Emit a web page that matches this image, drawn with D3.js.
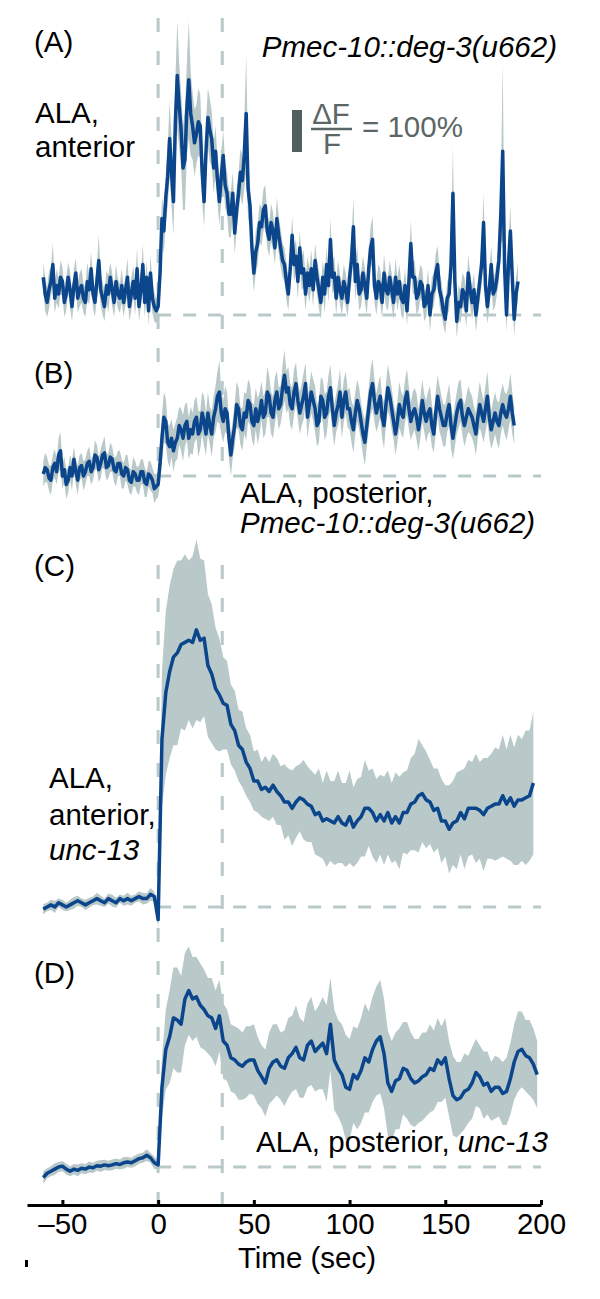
<!DOCTYPE html>
<html>
<head>
<meta charset="utf-8">
<script src="https://cdn.jsdelivr.net/npm/d3@7"></script>
<style>
body { margin: 0; background: #fff; }
text { font-family: "Liberation Sans", Arial, Helvetica, sans-serif; }
</style>
</head>
<body>
<script>
// dF/F traces (1 = 100%), all starting at t = -60 s
// A and B sampled every 1 s, C and D every 2 s
var tFirst = -60;
var stimOn = 0, stimOff = 33.5;
var timeTicks = [-50, 0, 50, 100, 150, 200];

var aMean = [
  0.9,0.5,0.3,0.6,0.8,1.2,0.4,0.7,0.5,0.9,
  0.8,0.3,0.5,0.9,0.6,0.2,0.7,1.0,0.4,0.6,
  0.7,0.4,0.3,0.8,0.6,1.1,0.5,0.3,0.8,1.3,
  0.6,0.4,0.2,0.7,0.5,0.9,0.6,0.3,0.8,0.5,
  0.4,0.7,0.3,0.6,0.9,0.2,0.5,0.8,0.4,1.1,
  0.2,0.6,1.2,0.3,0.9,0.1,1.0,0.4,0.2,0.1,
  0.2,1.0,2.3,2.0,2.8,3.3,4.2,3.4,2.7,4.6,
  5.7,5.0,4.4,3.5,3.7,4.9,5.6,4.8,4.5,4.1,
  4.3,4.6,4.5,3.4,2.7,3.9,4.7,4.4,4.2,3.5,
  3.9,3.2,2.7,3.3,3.8,3.1,2.9,2.4,2.4,2.9,
  1.95,2.5,2.9,3.4,3.2,3.8,4.8,3.0,2.6,1.6,
  1.0,1.5,1.7,2.2,2.1,2.5,2.6,2.0,1.8,2.2,
  2.0,1.6,2.3,1.9,1.6,1.3,1.2,0.8,0.5,1.1,
  1.9,1.2,1.4,0.8,1.6,1.0,1.1,0.5,1.0,0.7,
  1.1,0.6,1.3,0.9,0.6,0.3,0.9,0.5,1.2,0.7,
  1.8,0.9,1.0,0.4,0.9,0.6,0.4,0.8,0.6,0.3,
  0.9,1.3,2.1,0.8,1.2,0.5,0.6,1.0,0.7,0.4,
  1.1,1.6,1.8,0.7,0.4,0.8,0.7,0.3,1.0,0.6,
  0.5,0.9,0.6,0.3,0.9,0.5,0.8,0.4,0.3,0.7,
  0.1,0.8,1.7,0.9,0.9,0.4,0.5,0.8,0.7,0.2,
  0.3,0.7,0.0,0.5,0.6,1.0,1.2,0.6,0.4,0.1,
  -0.1,0.4,0.5,1.2,2.9,0.8,-0.15,0.3,0.2,0.6,
  0.5,0.1,1.0,0.6,0.3,0.6,0.0,0.4,0.8,1.2,
  2.2,0.7,0.2,0.6,1.2,0.5,0.6,0.9,1.3,2.4,
  3.9,1.1,0.0,1.2,2.0,0.9,-0.1,0.5,0.8];
var aErr = [
  0.35,0.4,0.35,0.45,0.35,0.5,0.35,0.4,0.35,0.4,
  0.35,0.35,0.4,0.35,0.45,0.35,0.4,0.35,0.35,0.4,
  0.4,0.35,0.35,0.45,0.35,0.4,0.35,0.35,0.4,0.6,
  0.35,0.4,0.35,0.35,0.45,0.35,0.4,0.35,0.4,0.35,
  0.35,0.4,0.35,0.35,0.45,0.35,0.4,0.35,0.4,0.5,
  0.35,0.4,0.5,0.35,0.4,0.35,0.45,0.35,0.35,0.3,
  0.3,0.4,0.5,0.55,0.6,0.7,0.9,0.8,0.8,1.0,
  1.3,1.0,0.9,1.0,1.2,1.1,1.4,1.0,0.8,0.8,
  0.7,0.8,0.75,0.7,0.6,0.7,0.7,0.75,0.65,0.6,
  0.6,0.55,0.55,0.6,0.6,0.55,0.5,0.55,0.55,0.5,
  0.5,0.5,0.5,0.55,0.6,0.8,1.4,0.7,0.5,0.45,
  0.45,0.5,0.5,0.45,0.45,0.5,0.5,0.4,0.4,0.45,
  0.45,0.4,0.5,0.45,0.45,0.4,0.4,0.45,0.4,0.4,
  0.45,0.4,0.4,0.45,0.4,0.4,0.45,0.4,0.4,0.4,
  0.45,0.4,0.4,0.4,0.45,0.4,0.4,0.45,0.4,0.4,
  0.5,0.4,0.4,0.4,0.4,0.35,0.4,0.4,0.4,0.35,
  0.45,0.5,0.7,0.45,0.45,0.4,0.4,0.4,0.4,0.4,
  0.45,0.5,0.55,0.4,0.4,0.4,0.4,0.4,0.45,0.4,
  0.4,0.4,0.4,0.4,0.45,0.4,0.4,0.4,0.4,0.4,
  0.35,0.45,0.55,0.4,0.4,0.4,0.4,0.4,0.4,0.35,
  0.35,0.4,0.4,0.4,0.4,0.45,0.45,0.4,0.4,0.35,
  0.35,0.4,0.4,0.5,1.1,0.4,0.4,0.4,0.4,0.4,
  0.4,0.4,0.45,0.4,0.4,0.4,0.4,0.4,0.45,0.5,
  0.7,0.4,0.4,0.45,0.45,0.4,0.4,0.4,0.5,0.7,
  2.1,0.5,0.4,0.5,0.6,0.45,0.4,0.4,0.45];

var bMean = [
  0.05,0.2,0.15,-0.05,-0.1,0.2,0.3,0.1,0.5,0.6,
  0.0,0.15,-0.2,-0.1,0.2,0.0,0.4,0.1,-0.1,0.2,
  0.25,0.0,0.1,0.3,0.35,0.1,0.2,0.5,0.45,0.15,
  0.3,0.5,0.55,0.2,0.25,0.45,0.4,0.15,0.1,0.3,
  0.3,0.05,0.0,0.2,0.15,-0.1,-0.15,0.1,0.05,-0.1,
  -0.1,0.1,0.1,-0.15,-0.2,0.05,0.0,-0.1,-0.3,-0.25,
  -0.2,0.3,0.9,1.4,1.3,0.8,0.7,0.9,0.6,0.8,
  0.9,1.2,1.1,0.9,1.2,1.3,0.9,1.1,1.0,1.3,
  1.4,1.0,1.1,1.5,1.3,1.0,1.5,1.2,1.0,1.4,
  1.6,1.9,2.0,1.5,1.3,1.6,1.5,0.9,0.5,0.9,
  1.2,1.7,1.6,1.2,1.1,1.5,1.4,1.8,1.7,1.3,
  1.2,1.6,1.3,1.5,1.8,1.4,1.5,2.0,1.9,1.5,
  1.4,1.8,2.0,1.6,1.7,2.1,2.4,2.0,2.1,1.7,
  1.6,2.0,2.2,1.8,1.5,1.7,1.9,2.2,1.4,1.7,
  2.0,1.8,1.6,1.2,1.3,1.9,1.8,1.4,1.5,1.9,
  2.1,1.6,1.2,1.5,1.7,2.0,1.4,1.8,2.0,1.6,
  1.6,1.3,1.1,1.5,1.8,1.6,1.3,1.0,0.8,1.2,
  1.6,2.0,2.2,1.8,1.5,1.7,1.9,1.4,1.2,1.7,
  2.1,1.9,1.6,1.3,1.0,1.3,1.7,1.5,1.4,1.8,
  2.0,1.6,1.3,1.5,1.6,1.4,1.1,1.4,1.8,1.5,
  1.3,1.5,1.6,1.2,1.0,1.5,1.9,1.6,1.4,1.2,
  1.2,1.5,1.7,1.2,0.9,1.2,1.5,1.7,1.8,1.4,
  1.2,1.4,1.6,1.5,1.4,1.2,1.0,1.4,1.7,1.5,
  1.3,1.6,1.9,1.4,1.1,1.3,1.5,1.3,1.2,1.5,
  1.7,1.5,1.4,1.6,1.9,1.5,1.2];
var bErr = [
  0.3,0.35,0.3,0.3,0.35,0.3,0.35,0.3,0.4,0.45,
  0.3,0.3,0.35,0.3,0.3,0.35,0.3,0.3,0.35,0.3,
  0.3,0.35,0.3,0.3,0.35,0.3,0.3,0.35,0.3,0.3,
  0.35,0.3,0.4,0.3,0.3,0.35,0.3,0.3,0.35,0.3,
  0.3,0.35,0.3,0.3,0.35,0.3,0.3,0.35,0.3,0.3,
  0.35,0.3,0.3,0.35,0.3,0.3,0.35,0.3,0.35,0.3,
  0.3,0.45,0.55,0.6,0.55,0.45,0.5,0.45,0.5,0.45,
  0.5,0.45,0.5,0.55,0.5,0.45,0.5,0.55,0.5,0.5,
  0.5,0.55,0.45,0.5,0.6,0.5,0.5,0.45,0.55,0.5,
  0.55,0.6,0.75,0.5,0.5,0.55,0.5,0.5,0.5,0.45,
  0.5,0.55,0.5,0.45,0.5,0.5,0.55,0.5,0.5,0.45,
  0.5,0.5,0.55,0.5,0.45,0.5,0.5,0.6,0.5,0.5,
  0.5,0.55,0.5,0.5,0.45,0.55,0.6,0.5,0.5,0.5,
  0.5,0.55,0.5,0.45,0.5,0.5,0.55,0.5,0.5,0.45,
  0.5,0.5,0.55,0.5,0.5,0.45,0.5,0.55,0.5,0.5,
  0.55,0.5,0.5,0.45,0.5,0.55,0.5,0.5,0.5,0.45,
  0.5,0.5,0.55,0.5,0.5,0.5,0.45,0.5,0.55,0.5,
  0.5,0.55,0.6,0.5,0.45,0.5,0.5,0.5,0.55,0.5,
  0.55,0.5,0.5,0.45,0.5,0.5,0.55,0.5,0.5,0.5,
  0.55,0.5,0.45,0.5,0.5,0.55,0.5,0.5,0.5,0.45,
  0.5,0.5,0.55,0.5,0.45,0.5,0.5,0.55,0.5,0.5,
  0.5,0.45,0.5,0.55,0.5,0.5,0.5,0.55,0.5,0.45,
  0.5,0.5,0.55,0.5,0.5,0.45,0.5,0.5,0.55,0.5,
  0.5,0.55,0.6,0.5,0.45,0.5,0.5,0.5,0.55,0.5,
  0.5,0.5,0.55,0.5,0.55,0.5,0.45];

var cMean = [
  -0.05,0.0,0.05,0.0,0.1,0.05,0.0,0.05,0.1,0.15,0.1,0.05,0.1,0.15,0.2,
  0.15,0.1,0.2,0.15,0.1,0.2,0.15,0.2,0.15,0.2,0.25,0.2,0.2,0.3,0.25,
  -0.3,4.0,5.1,5.6,5.95,6.05,6.25,6.3,6.35,6.3,
  6.6,6.35,6.4,5.75,5.55,5.2,5.05,4.85,4.8,4.35,
  4.2,3.85,3.75,3.45,3.3,3.0,3.0,2.8,2.85,2.75,
  2.9,2.75,2.65,2.5,2.5,2.35,2.5,2.6,2.55,2.45,
  2.4,2.2,2.25,2.05,2.1,2.05,2.0,2.15,2.0,1.95,
  2.15,1.9,2.05,2.15,2.35,2.35,2.25,2.05,2.2,2.05,
  2.25,2.0,2.15,2.0,2.25,2.25,2.45,2.5,2.65,2.7,
  2.55,2.5,2.3,2.35,2.05,2.05,1.85,2.0,2.05,2.25,
  2.1,2.35,2.35,2.35,2.3,2.2,2.35,2.4,2.45,2.45,
  2.65,2.45,2.6,2.4,2.55,2.55,2.6,2.65,2.95];
var cErr = [
  0.12,0.1,0.12,0.14,0.1,0.12,0.1,0.12,0.14,0.12,0.1,0.12,0.12,0.1,0.14,
  0.12,0.1,0.12,0.14,0.12,0.1,0.12,0.14,0.12,0.1,0.12,0.14,0.12,0.15,0.12,
  0.2,1.6,1.95,2.05,2.1,2.2,2.0,2.1,1.9,2.05,
  2.15,1.95,1.85,1.7,1.65,1.45,1.35,1.1,1.05,0.95,
  0.95,0.85,0.9,0.8,0.8,0.7,0.75,0.65,0.75,0.7,
  0.75,0.8,0.7,0.9,0.8,0.9,0.85,0.8,0.95,0.9,
  0.85,0.95,1.05,0.9,1.15,0.95,1.0,1.1,0.95,1.0,
  1.1,0.95,1.0,0.95,1.15,0.9,1.05,1.0,0.95,1.05,
  1.0,0.95,1.05,1.1,0.95,1.0,1.1,1.15,1.35,1.15,
  1.15,1.0,1.0,0.95,1.0,0.85,1.05,1.0,1.15,1.0,
  1.2,1.15,1.1,1.3,1.15,1.35,1.2,1.25,1.35,1.3,
  1.45,1.3,1.5,1.4,1.55,1.45,1.6,1.55,1.7];

var dMean = [
  -0.25,-0.15,-0.1,-0.05,0.0,0.02,-0.05,-0.1,-0.05,-0.08,-0.03,-0.05,0.0,-0.02,0.03,
  0.02,0.05,0.03,0.05,0.08,0.06,0.1,0.12,0.1,0.15,0.2,0.22,0.28,0.22,0.1,
  0.05,1.9,2.8,3.1,3.55,3.5,3.4,4.0,4.2,4.0,
  4.05,3.85,3.75,3.6,3.55,3.3,3.6,3.0,2.9,2.6,
  2.55,2.45,2.4,2.5,2.55,2.55,2.3,2.15,2.0,2.35,
  2.5,2.55,2.4,2.35,2.6,2.7,2.85,2.6,2.55,2.9,
  3.0,2.75,2.85,2.95,2.7,3.4,2.55,2.35,2.2,1.9,
  1.85,2.2,2.1,2.3,2.6,2.5,2.8,3.0,3.1,2.7,
  2.0,1.8,2.05,2.1,2.35,2.3,2.1,2.0,2.05,2.15,
  2.2,2.35,2.3,2.55,2.45,2.6,2.1,1.7,1.6,1.65,
  1.8,1.85,2.0,2.25,2.15,1.95,2.0,1.8,1.9,1.9,
  1.75,1.8,2.1,2.5,2.75,2.8,2.65,2.6,2.45,2.2];
var dErr = [
  0.15,0.12,0.12,0.14,0.12,0.12,0.13,0.12,0.12,0.14,0.12,0.12,0.13,0.12,0.12,
  0.14,0.12,0.12,0.13,0.12,0.12,0.14,0.12,0.12,0.13,0.12,0.12,0.14,0.12,0.15,
  0.1,0.7,0.95,1.1,1.2,1.25,1.15,1.1,1.05,1.0,
  0.95,1.0,0.95,0.9,0.95,0.9,0.85,0.9,0.85,0.8,
  0.8,0.85,0.8,0.85,0.8,0.85,0.8,0.75,0.8,0.85,
  0.9,0.85,0.8,0.9,0.95,0.9,1.0,0.95,0.9,1.0,
  1.05,0.95,1.0,1.1,1.15,1.1,1.2,1.15,1.2,1.25,
  1.2,1.15,1.2,1.25,1.3,1.2,1.25,1.3,1.35,1.3,
  1.25,1.2,1.15,1.2,1.1,1.15,1.1,1.05,1.0,1.05,
  1.0,1.05,0.95,1.0,0.9,0.95,0.9,0.95,0.9,0.85,
  0.9,0.8,0.85,0.8,0.75,0.8,0.75,0.7,0.75,0.7,
  0.75,0.8,0.85,0.9,0.95,0.9,0.85,0.9,0.85,0.8];

var width = 600, height = 1299;
var unitPx = 42;            // height of 100% dF/F
var fontSize = "29.5px";
var lineColor = '#0b468c';
var bandColor = '#b9c9c9';
var dashColor = '#b9c9c9';

var svg = d3.select("body").append("svg")
    .attr("width", width)
    .attr("height", height);

var x = d3.scaleLinear().domain([-68.5, 200]).range([27, 541]);

var panels = [
    { mean: aMean, err: aErr, dt: 1, base: 315 },
    { mean: bMean, err: bErr, dt: 1, base: 476 },
    { mean: cMean, err: cErr, dt: 2, base: 907 },
    { mean: dMean, err: dErr, dt: 2, base: 1167 }
];

// stimulus on / off markers, one pair for A-B and one for C-D
var stimGroups = [[18, 478], [565, 1205]];
stimGroups.forEach(function (g) {
    svg.selectAll(null)
        .data([stimOn, stimOff])
        .enter().append("line")
        .attr("x1", function (d) { return x(d); })
        .attr("x2", function (d) { return x(d); })
        .attr("y1", g[0])
        .attr("y2", g[1])
        .style("stroke", dashColor)
        .style("stroke-width", 3)
        .style("stroke-dasharray", "14,19");
});

panels.forEach(function (p) {
    var y = d3.scaleLinear().domain([0, 1]).range([p.base, p.base - unitPx]);
    var pts = p.mean.map(function (m, i) {
        return { t: tFirst + i * p.dt, m: m, e: p.err[i] };
    });

    svg.append("line")
        .attr("x1", x(stimOn))
        .attr("x2", x(200))
        .attr("y1", y(0))
        .attr("y2", y(0))
        .style("stroke", dashColor)
        .style("stroke-width", 3)
        .style("stroke-dasharray", "13,12");

    var area = d3.area()
        .x(function (d) { return x(d.t); })
        .y0(function (d) { return y(d.m - d.e); })
        .y1(function (d) { return y(d.m + d.e); });

    var line = d3.line()
        .x(function (d) { return x(d.t); })
        .y(function (d) { return y(d.m); });

    svg.append("path")
        .datum(pts)
        .attr("d", area)
        .style("fill", bandColor);

    svg.append("path")
        .datum(pts)
        .attr("d", line)
        .style("fill", "none")
        .style("stroke", lineColor)
        .style("stroke-width", 3.5)
        .style("stroke-linejoin", "round");
});

// time axis
var axis = svg.append("g")
    .attr("transform", "translate(0,1205)")
    .call(d3.axisBottom(x)
        .tickValues(timeTicks)
        .tickSizeInner(-5)
        .tickSizeOuter(0)
        .tickPadding(8)
        .tickFormat(function (d) { return d < 0 ? "\u2013" + Math.abs(d) : d; }));
axis.select(".domain").style("stroke", "#000").style("stroke-width", 3);
axis.selectAll(".tick line").style("stroke", "#000").style("stroke-width", 3);
axis.selectAll(".tick text")
    .style("font-size", fontSize)
    .style("font-family", "'Liberation Sans', Arial, sans-serif")
    .style("fill", "#000");

svg.append("text")
    .attr("x", 307).attr("y", 1268)
    .attr("text-anchor", "middle")
    .style("font-size", fontSize)
    .text("Time (sec)");

svg.append("rect")
    .attr("x", 25).attr("y", 1260).attr("width", 3).attr("height", 7)
    .style("fill", "#000");

// labels
function label(txt, xx, yy, opts) {
    opts = opts || {};
    return svg.append("text")
        .attr("x", xx).attr("y", yy)
        .attr("text-anchor", opts.anchor || "start")
        .style("font-size", fontSize)
        .style("font-style", opts.italic ? "italic" : "normal")
        .style("fill", opts.color || "#000")
        .text(txt);
}

label("(A)", 34, 52);
label("(B)", 34, 383);
label("(C)", 34, 576);
label("(D)", 34, 983);

label("Pmec-10::deg-3(u662)", 557, 57, { anchor: "end", italic: true });
label("ALA,", 35, 123);
label("anterior", 35, 157);

label("ALA, posterior,", 240, 503);
label("Pmec-10::deg-3(u662)", 240, 533, { italic: true });

label("ALA,", 49, 788);
label("anterior,", 49, 825);
label("unc-13", 49, 860, { italic: true });

var dLab = label("", 548, 1152, { anchor: "end" });
dLab.append("tspan").text("ALA, posterior, ");
dLab.append("tspan").style("font-style", "italic").text("unc-13");

// scale bar: 100% dF/F
var grey = '#5b6666';
svg.append("rect")
    .attr("x", 292).attr("y", 110)
    .attr("width", 10).attr("height", unitPx)
    .style("fill", '#535e5e');
label("\u0394F", 331, 124, { anchor: "middle", color: grey });
svg.append("line")
    .attr("x1", 311).attr("x2", 352)
    .attr("y1", 129).attr("y2", 129)
    .style("stroke", grey).style("stroke-width", 2.5);
label("F", 332, 154, { anchor: "middle", color: grey });
label("= 100%", 362, 137, { color: grey });
</script>
</body>
</html>
